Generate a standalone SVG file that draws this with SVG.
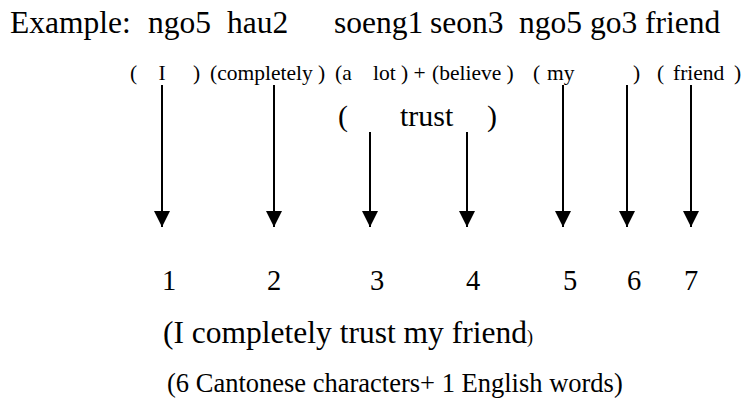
<svg xmlns="http://www.w3.org/2000/svg" width="748" height="399" viewBox="0 0 748 399">
<style>
text{font-family:"Liberation Serif","Times New Roman",serif;fill:#000}
.t{font-size:31.5px}
.g{font-size:21.5px}
.tr{font-size:30px}
.n{font-size:28.5px}
.s{font-size:31.5px}
.f{font-size:26.5px}
.ar{stroke:#000;stroke-width:2;fill:none;marker-end:url(#ah)}
</style>
<defs>
<marker id="ah" viewBox="0 0 16 16" refX="16" refY="8" markerWidth="16" markerHeight="16" markerUnits="userSpaceOnUse" orient="auto">
<path d="M0,0 L16,8 L0,16 Z" fill="#000"/>
</marker>
</defs>
<g id="title">
<text class="t" y="33"><tspan x="10">Example:</tspan><tspan x="148">ngo5</tspan><tspan x="227">hau2</tspan><tspan x="334">soeng1</tspan><tspan x="430">seon3</tspan><tspan x="519">ngo5</tspan><tspan x="590">go3</tspan><tspan x="645">friend</tspan></text>
</g>
<g id="gloss">
<text class="g" y="80"><tspan x="130">(</tspan><tspan x="158.5">I</tspan><tspan x="193">)</tspan><tspan x="210">(completely )</tspan><tspan x="335">(a</tspan><tspan x="373">lot ) +</tspan><tspan x="432">(believe )</tspan><tspan x="533">(</tspan><tspan x="547">my</tspan><tspan x="633">)</tspan><tspan x="657">(</tspan><tspan x="673">friend</tspan><tspan x="734">)</tspan></text>
</g>
<g id="trust">
<text class="tr" y="126"><tspan x="338">(</tspan><tspan x="400">trust</tspan><tspan x="487">)</tspan></text>
</g>
<g id="connectors">
<line class="ar" x1="162" y1="85" x2="162" y2="227"/>
<line class="ar" x1="274" y1="85" x2="274" y2="227"/>
<line class="ar" x1="370" y1="132" x2="370" y2="227"/>
<line class="ar" x1="467" y1="132" x2="467" y2="227"/>
<line class="ar" x1="563" y1="85" x2="563" y2="227"/>
<line class="ar" x1="627" y1="85" x2="627" y2="227"/>
<line class="ar" x1="691" y1="85" x2="691" y2="227"/>
</g>
<g id="numbers">
<text class="n" y="290"><tspan x="162">1</tspan><tspan x="267">2</tspan><tspan x="370">3</tspan><tspan x="466">4</tspan><tspan x="563">5</tspan><tspan x="627">6</tspan><tspan x="684">7</tspan></text>
</g>
<g id="translation">
<text class="s" x="163" y="343">(I completely trust my friend<tspan font-size="18px">)</tspan></text>
</g>
<g id="note">
<text class="f" x="167" y="392">(6 Cantonese characters+ 1 English words)</text>
</g>
</svg>
